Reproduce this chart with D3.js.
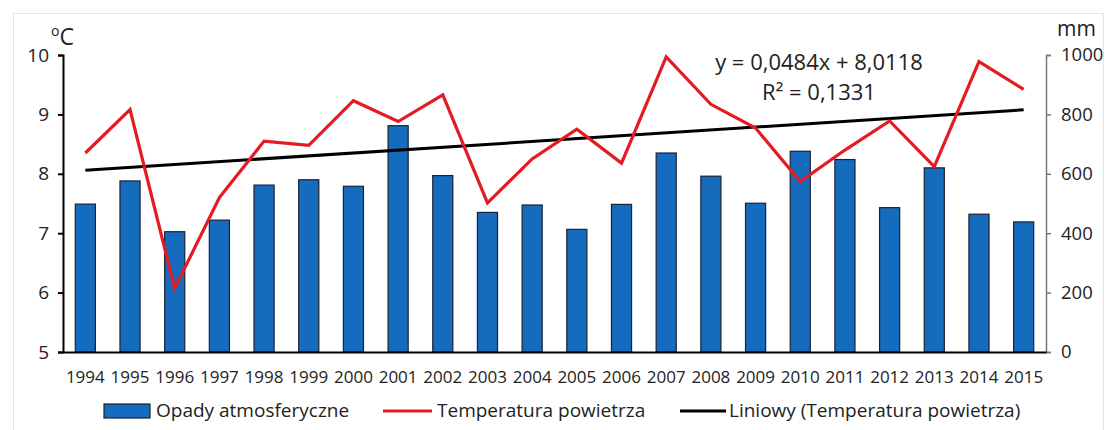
<!DOCTYPE html>
<html>
<head>
<meta charset="utf-8">
<script src="https://cdn.jsdelivr.net/npm/d3@7"></script>
<style>
  body { margin: 0; background: #fff; }
  svg { display: block; font-family: "Open Sans", "Noto Sans", sans-serif; }
</style>
</head>
<body>
<svg id="chart" width="1109" height="430"></svg>
<script>
// lata
var years = [1994, 1995, 1996, 1997, 1998, 1999, 2000, 2001, 2002, 2003, 2004,
             2005, 2006, 2007, 2008, 2009, 2010, 2011, 2012, 2013, 2014, 2015];
// opady atmosferyczne [mm]
var opady = [498, 576, 405, 444, 562, 580, 558, 762, 594, 470, 495,
             413, 497, 670, 592, 501, 676, 648, 486, 620, 464, 438];
// temperatura powietrza [oC]
var temperatura = [8.35, 9.08, 6.07, 7.6, 8.55, 8.48, 9.23, 8.88, 9.33, 7.51, 8.25,
                   8.75, 8.18, 9.97, 9.17, 8.77, 7.87, 8.4, 8.89, 8.12, 9.89, 9.42];
// linia trendu y = a*x + b
var trendA = 0.0484, trendB = 8.0118;
var leftTicks = [5, 6, 7, 8, 9, 10];
var rightTicks = [0, 200, 400, 600, 800, 1000];

var svg = d3.select("#chart");

// ramka obrazka
svg.append("rect")
    .attr("x", 13.5).attr("y", 13.5)
    .attr("width", 1090).attr("height", 440)
    .attr("fill", "none")
    .attr("stroke", "#e4e4e4");

var x = d3.scaleBand()
    .domain(years)
    .range([63, 1046])
    .paddingInner(0.55)
    .paddingOuter(0.275);

var yL = d3.scaleLinear().domain([5, 10]).range([352, 55]);
var yR = d3.scaleLinear().domain([0, 1000]).range([352, 55]);

/* słupki - opady */
svg.append("g")
    .selectAll("rect")
    .data(years)
    .enter()
    .append("rect")
    .attr("x", function(d) { return x(d); })
    .attr("width", x.bandwidth())
    .attr("y", function(d, i) { return yR(opady[i]); })
    .attr("height", function(d, i) { return yR(0) - yR(opady[i]); })
    .attr("fill", "#156bbd")
    .attr("stroke", "#1b2330")
    .attr("stroke-width", 1.2);

/* osie */
var axL = svg.append("g")
    .attr("transform", "translate(63,0)")
    .call(d3.axisLeft(yL).tickValues(leftTicks).tickSize(5).tickFormat(d3.format("d")));
axL.select(".domain").attr("stroke", "#000").attr("stroke-width", 2);
axL.selectAll(".tick line").attr("stroke", "#000").attr("stroke-width", 2);
axL.selectAll(".tick text")
    .attr("x", -14)
    .attr("font-size", "19px")
    .attr("font-family", "Open Sans, sans-serif")
    .attr("fill", "#222");

var axR = svg.append("g")
    .attr("transform", "translate(1046,0)")
    .call(d3.axisRight(yR).tickValues(rightTicks).tickSize(5).tickFormat(d3.format("d")));
axR.select(".domain").attr("stroke", "#777").attr("stroke-width", 1.5);
axR.selectAll(".tick line").attr("stroke", "#777").attr("stroke-width", 1.5);
axR.selectAll(".tick text")
    .attr("x", 15)
    .attr("font-size", "18.5px")
    .attr("font-family", "Open Sans, sans-serif")
    .attr("fill", "#222");

var axB = svg.append("g")
    .attr("transform", "translate(0,352)")
    .call(d3.axisBottom(x).tickSize(0));
axB.select(".domain").attr("stroke", "#000").attr("stroke-width", 2);
axB.selectAll(".tick text")
    .attr("y", 19)
    .attr("font-size", "17px")
    .attr("font-family", "Open Sans, sans-serif")
    .attr("fill", "#222");

/* jednostki */
var unitL = svg.append("text")
    .attr("x", 51).attr("y", 45)
    .attr("font-size", "23px")
    .attr("fill", "#222");
unitL.append("tspan").attr("font-size", "14px").attr("dy", -9).text("o");
unitL.append("tspan").attr("dy", 9).text("C");

svg.append("text")
    .attr("x", 1057).attr("y", 36)
    .attr("font-size", "21px")
    .attr("fill", "#222")
    .text("mm");

/* linia trendu */
var cx = function(d) { return x(d) + x.bandwidth() / 2; };

svg.append("path")
    .datum([years[0], years[years.length - 1]])
    .attr("fill", "none")
    .attr("stroke", "#000")
    .attr("stroke-width", 3)
    .attr("d", d3.line()
        .x(function(d) { return cx(d); })
        .y(function(d) { return yL(trendA * (years.indexOf(d) + 1) + trendB); }));

/* temperatura */
svg.append("path")
    .datum(years)
    .attr("fill", "none")
    .attr("stroke", "#e31b23")
    .attr("stroke-width", 3.2)
    .attr("stroke-linejoin", "miter")
    .attr("d", d3.line()
        .x(function(d) { return cx(d); })
        .y(function(d, i) { return yL(temperatura[i]); }));

/* równanie */
svg.append("text")
    .attr("x", 819).attr("y", 70)
    .attr("text-anchor", "middle")
    .attr("font-size", "22px")
    .attr("fill", "#222")
    .text("y = 0,0484x + 8,0118");
svg.append("text")
    .attr("x", 819).attr("y", 100)
    .attr("text-anchor", "middle")
    .attr("font-size", "22px")
    .attr("fill", "#222")
    .text("R² = 0,1331");

/* legenda */
var leg = svg.append("g").attr("font-size", "19px").attr("fill", "#222");
leg.append("rect")
    .attr("x", 104).attr("y", 404).attr("width", 46).attr("height", 14)
    .attr("fill", "#156bbd").attr("stroke", "#1b2330").attr("stroke-width", 1.2);
leg.append("text").attr("x", 156).attr("y", 417).text("Opady atmosferyczne");

leg.append("line")
    .attr("x1", 383).attr("x2", 432).attr("y1", 411).attr("y2", 411)
    .attr("stroke", "#e31b23").attr("stroke-width", 3.2);
leg.append("text").attr("x", 437).attr("y", 417).text("Temperatura powietrza");

leg.append("line")
    .attr("x1", 680).attr("x2", 726).attr("y1", 411).attr("y2", 411)
    .attr("stroke", "#000").attr("stroke-width", 3);
leg.append("text").attr("x", 729).attr("y", 417).text("Liniowy (Temperatura powietrza)");
</script>
</body>
</html>
